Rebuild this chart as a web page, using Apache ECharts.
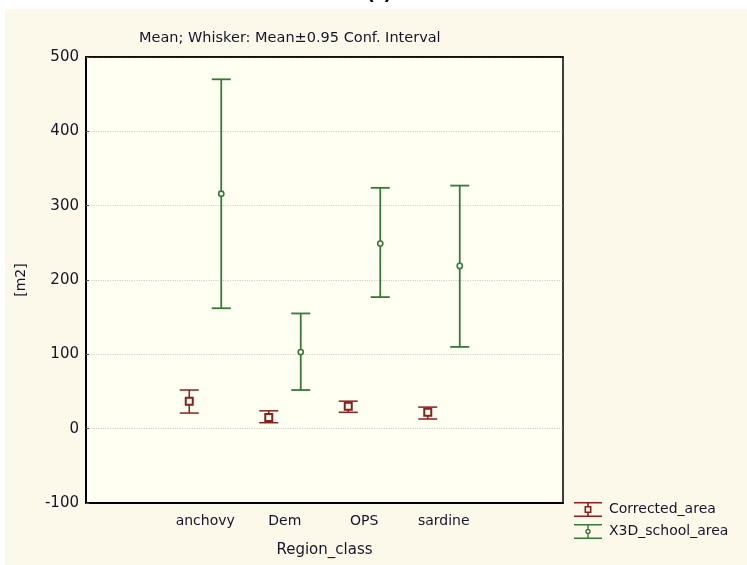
<!DOCTYPE html>
<html>
<head>
<meta charset="utf-8">
<title>Region_class</title>
<script src="https://cdn.jsdelivr.net/npm/echarts@6/dist/echarts.min.js"></script>
<style>
  html, body { margin: 0; padding: 0; background: #ffffff; }
  #chart { width: 747px; height: 565px; }
</style>
</head>
<body>
<div id="chart"></div>
<script>
// Categories on the x axis (empty slots pad both ends of the axis)
const categories = ['', 'anchovy', 'Dem', 'OPS', 'sardine', ''];
const groups = ['anchovy', 'Dem', 'OPS', 'sardine'];

// Corrected_area: mean with lower / upper 95% confidence limits
const correctedMean = [37, 15, 30, 22];
const correctedLow  = [21, 8, 22, 13];
const correctedHigh = [52, 24, 37, 29];

// X3D_school_area: mean with lower / upper 95% confidence limits
const schoolMean = [316, 103, 249, 219];
const schoolLow  = [162, 52, 177, 110];
const schoolHigh = [470, 155, 324, 327];

// Y axis range and step
const yMin = -100, yMax = 500, yStep = 100;

const RED = '#8b1e1e';
const GREEN = '#357a36';
const PLOT_BG = '#fffff2';
const PAGE_BG = '#fdf9ea';
const FONT = 'DejaVu Sans, Verdana, sans-serif';
const TEXT = '#15152a';

function rows(mean, low, high) {
  return groups.map((g, i) => [g, mean[i], low[i], high[i]]);
}

// Error bar drawn per category: whisker, caps and a hollow marker at the mean
function errorBar(offset, color, marker, width) {
  return function (params, api) {
    const pm = api.coord([api.value(0), api.value(1)]);
    const pl = api.coord([api.value(0), api.value(2)]);
    const ph = api.coord([api.value(0), api.value(3)]);
    const x = pm[0] + offset;
    const capHalf = 9.5;
    const line = { stroke: color, lineWidth: width };
    const children = [
      { type: 'line', shape: { x1: x, y1: ph[1], x2: x, y2: pl[1] }, style: line },
      { type: 'line', shape: { x1: x - capHalf, y1: ph[1], x2: x + capHalf, y2: ph[1] }, style: line },
      { type: 'line', shape: { x1: x - capHalf, y1: pl[1], x2: x + capHalf, y2: pl[1] }, style: line }
    ];
    if (marker === 'square') {
      children.push({
        type: 'rect', shape: { x: x - 3.5, y: pm[1] - 3.5, width: 7, height: 7 },
        style: { fill: PLOT_BG, stroke: color, lineWidth: 2 }
      });
    } else {
      children.push({
        type: 'circle', shape: { cx: x, cy: pm[1], r: 2.6 },
        style: { fill: PLOT_BG, stroke: color, lineWidth: 1.6 }
      });
    }
    return { type: 'group', children: children };
  };
}

// Legend icons: capped whisker with the series marker
const iconSquare = 'path://M0 0H28V1.6H0Z M0 13.4H28V15H0Z M13.2 1.6H14.8V4H13.2Z M13.2 11H14.8V13.4H13.2Z ' +
  'M10.5 4H17.5V11H10.5Z M12.1 5.6V9.4H15.9V5.6Z';
const iconCircle = 'path://M0 0H28V1.6H0Z M0 13.4H28V15H0Z M13.3 1.6H14.7V4.8H13.3Z M13.3 10.2H14.7V13.4H13.3Z ' +
  'M16.7 7.5A2.7 2.7 0 1 0 11.3 7.5A2.7 2.7 0 1 0 16.7 7.5Z M15.3 7.5A1.3 1.3 0 1 1 12.7 7.5A1.3 1.3 0 1 1 15.3 7.5Z';

const chart = echarts.init(document.getElementById('chart'), null, { renderer: 'canvas' });

chart.setOption({
  backgroundColor: PAGE_BG,
  animation: false,
  textStyle: { fontFamily: FONT },
  title: {
    text: 'Mean; Whisker: Mean\u00b10.95 Conf. Interval',
    left: 134, top: 26,
    textStyle: { fontSize: 14.5, fontWeight: 'normal', color: TEXT, fontFamily: FONT }
  },
  grid: {
    left: 86, top: 57, width: 477, height: 446,
    show: true, backgroundColor: PLOT_BG, borderColor: '#000', borderWidth: 1.5
  },
  legend: {
    orient: 'vertical', left: 569, top: 497,
    itemWidth: 28, itemHeight: 15, itemGap: 7,
    textStyle: { fontSize: 14, color: TEXT, fontFamily: FONT, padding: [0, 0, 0, 2] },
    data: [
      { name: 'Corrected_area', icon: iconSquare },
      { name: 'X3D_school_area', icon: iconCircle }
    ]
  },
  xAxis: [
    {
      type: 'category', data: categories, position: 'bottom',
      name: 'Region_class', nameLocation: 'middle', nameGap: 40,
      nameTextStyle: { fontSize: 15, color: TEXT },
      axisLine: { onZero: false, lineStyle: { color: '#000', width: 2 } },
      axisTick: { alignWithLabel: true, inside: true, length: 4, lineStyle: { color: '#000' } },
      axisLabel: { fontSize: 14, color: TEXT, margin: 11, interval: 0 },
      splitLine: { show: false }
    },
    {
      type: 'category', data: categories, position: 'top',
      axisLine: { onZero: false, lineStyle: { color: '#000', width: 1.5 } },
      axisTick: { alignWithLabel: true, inside: true, length: 4, lineStyle: { color: '#000' } },
      axisLabel: { show: false },
      splitLine: { show: false }
    }
  ],
  yAxis: {
    type: 'value', min: yMin, max: yMax, interval: yStep,
    name: '[m2]', nameLocation: 'middle', nameGap: 58, nameRotate: 90,
    nameTextStyle: { fontSize: 14, color: TEXT },
    axisLine: { show: true, onZero: false, lineStyle: { color: '#000', width: 2 } },
    axisTick: { show: true, inside: true, length: 3, lineStyle: { color: '#555' } },
    axisLabel: { fontSize: 15, color: TEXT, margin: 7 },
    splitLine: { show: true, lineStyle: { color: '#cfcfcf', type: [1.2, 1.2], width: 1 } }
  },
  graphic: [
    { type: 'rect', z: 100, shape: { x: 0, y: 0, width: 747, height: 9 }, style: { fill: '#ffffff' } },
    { type: 'rect', z: 100, shape: { x: 0, y: 0, width: 5, height: 565 }, style: { fill: '#ffffff' } },
    {
      type: 'text', z: 101, left: 367, top: -18,
      style: { text: '(a)', font: 'bold 20px Liberation Sans, Arial, sans-serif', fill: '#000' }
    }
  ],
  series: [
    {
      name: 'Corrected_area', type: 'custom', xAxisIndex: 0,
      itemStyle: { color: RED },
      encode: { x: 0, y: [1, 2, 3] },
      renderItem: errorBar(-16, RED, 'square', 1.5),
      data: rows(correctedMean, correctedLow, correctedHigh)
    },
    {
      name: 'X3D_school_area', type: 'custom', xAxisIndex: 0,
      itemStyle: { color: GREEN },
      encode: { x: 0, y: [1, 2, 3] },
      renderItem: errorBar(16, GREEN, 'circle', 1.8),
      data: rows(schoolMean, schoolLow, schoolHigh)
    }
  ]
});
</script>
</body>
</html>
